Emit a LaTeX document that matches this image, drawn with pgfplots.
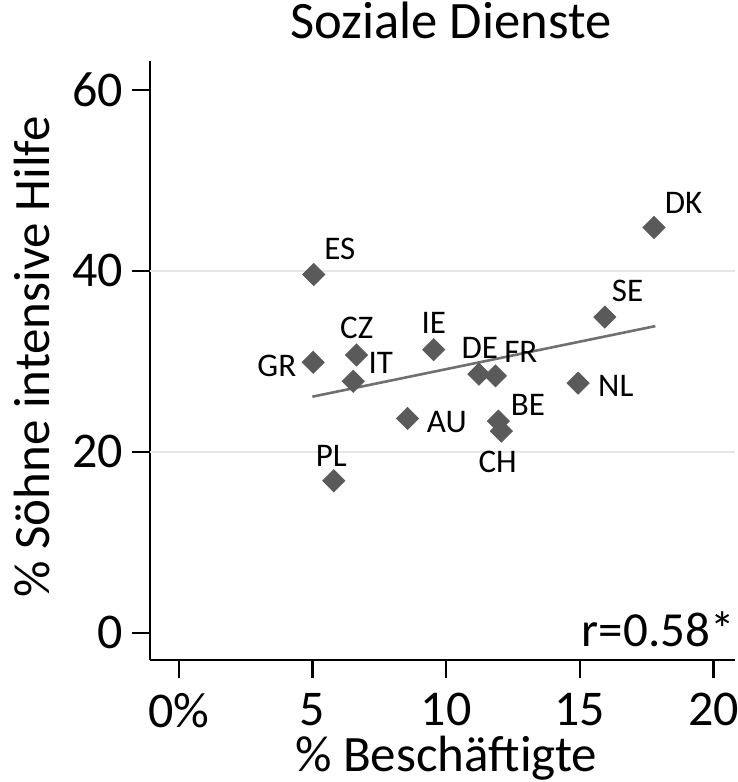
\documentclass[border=0pt]{standalone}
\usepackage{fontspec}
\setmainfont{Carlito}
\usepackage{pgfplots}
\pgfplotsset{compat=1.18}
\definecolor{mk}{HTML}{5A5A5A}
\definecolor{fitc}{HTML}{707070}
\definecolor{grd}{HTML}{E6E6E6}
\begin{document}
\begin{tikzpicture}[x=1pt,y=1pt]
\useasboundingbox (-75,-61) rectangle (294,330);
\begin{axis}[
  at={(0,0)}, anchor=south west,
  scale only axis, width=292.5pt, height=299.5pt,
  xmin=-1.084, xmax=20.8, ymin=-3.0, ymax=63.2,
  axis x line*=bottom, axis y line*=left,
  axis line style={line width=1.2pt, black},
  xtick={0,5,10,15,20}, xticklabels={0\%,5,10,15,20},
  ytick={0,20,40,60},
  tick align=outside, major tick length=9pt,
  tick style={line width=1.2pt, black},
  ticklabel style={font=\fontsize{25}{29}\selectfont},
  xticklabel style={yshift=-4pt},
  yticklabel style={xshift=-1pt},
  /pgf/number format/assume math mode=true,
  extra y ticks={20,40}, extra y tick labels={},
  extra y tick style={grid=major, tick style={draw=none}},
  grid style={grd, line width=1.2pt},
  clip=false,
]
\addplot[only marks, mark=square*, mark size=3.9pt, mark options={rotate=45, fill=mk, draw=mk}] table {
x y
5.04 39.6
17.77 44.8
15.93 34.9
5.02 29.9
6.64 30.7
6.52 27.8
9.53 31.3
11.22 28.6
11.84 28.4
14.93 27.6
8.55 23.7
11.95 23.4
12.06 22.3
5.79 16.8
};
\addplot[fitc, line width=1.3pt] coordinates {(4.99,26.1) (17.82,33.9)};
\begin{scope}[every node/.style={font=\fontsize{16.5}{19}\selectfont, inner sep=0pt}]
\node at (axis cs:6.02,42.4) {ES};
\node at (axis cs:18.88,47.5) {DK};
\node at (axis cs:16.78,37.8) {SE};
\node at (axis cs:3.66,29.5) {GR};
\node at (axis cs:6.65,33.7) {CZ};
\node at (axis cs:7.55,29.8) {IT};
\node at (axis cs:9.53,34.2) {IE};
\node at (axis cs:11.25,31.5) {DE};
\node at (axis cs:12.79,31.1) {FR};
\node at (axis cs:16.34,27.3) {NL};
\node at (axis cs:10.02,23.3) {AU};
\node at (axis cs:13.05,25.2) {BE};
\node at (axis cs:11.92,18.9) {CH};
\node at (axis cs:5.70,19.5) {PL};
\end{scope}
\end{axis}
\node[anchor=base east, inner sep=0pt, font=\fontsize{24.5}{28}\selectfont] at (292.5,6.7) {r=0.58*};
\node[anchor=base, inner sep=0pt, font=\fontsize{26.3}{30}\selectfont] at (150.5,310.9) {Soziale Dienste};
\node[anchor=base, inner sep=0pt, font=\fontsize{25.5}{29}\selectfont] at (148,-55.9) {\% Beschäftigte};
\node[anchor=base, rotate=90, inner sep=0pt, font=\fontsize{25.5}{29}\selectfont] at (-50,151.5) {\% Söhne intensive Hilfe};
\end{tikzpicture}
\end{document}
